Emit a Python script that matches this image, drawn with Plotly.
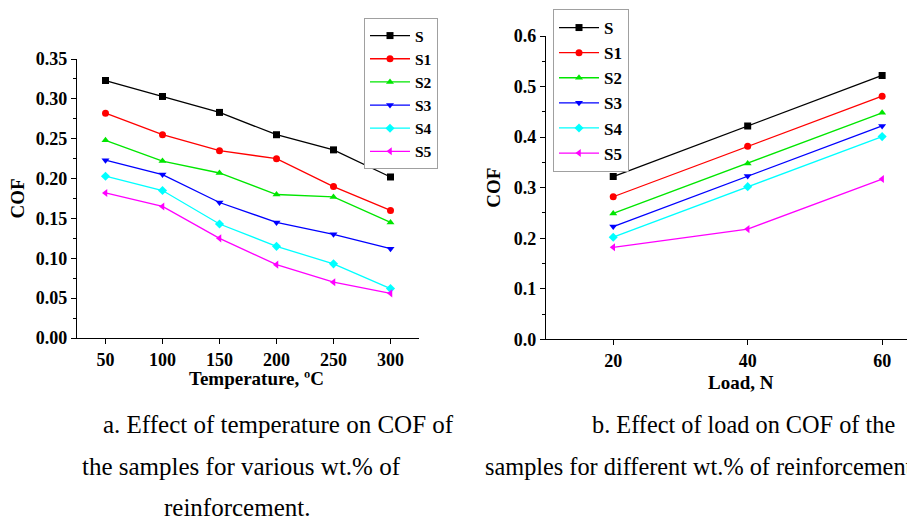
import plotly.graph_objects as go

# ---------------- data ----------------
series_names = ["S", "S1", "S2", "S3", "S4", "S5"]
temperature = [50, 100, 150, 200, 250, 300]
cof_temp_S  = [0.323, 0.303, 0.283, 0.255, 0.236, 0.202]
cof_temp_S1 = [0.282, 0.255, 0.235, 0.225, 0.190, 0.160]
cof_temp_S2 = [0.248, 0.222, 0.207, 0.180, 0.177, 0.145]
cof_temp_S3 = [0.223, 0.205, 0.170, 0.145, 0.130, 0.112]
cof_temp_S4 = [0.203, 0.185, 0.143, 0.115, 0.093, 0.062]
cof_temp_S5 = [0.182, 0.165, 0.125, 0.092, 0.070, 0.056]

load = [20, 40, 60]
cof_load_S  = [0.322, 0.422, 0.522]
cof_load_S1 = [0.282, 0.382, 0.481]
cof_load_S2 = [0.249, 0.348, 0.448]
cof_load_S3 = [0.223, 0.323, 0.422]
cof_load_S4 = [0.202, 0.302, 0.401]
cof_load_S5 = [0.182, 0.218, 0.317]

colors = ["#000000", "#ff0000", "#00e600", "#0000ff", "#00ffff", "#ff00ff"]
symbols = ["square", "circle", "triangle-up", "triangle-down", "diamond", "triangle-left"]

temp_series = [cof_temp_S, cof_temp_S1, cof_temp_S2, cof_temp_S3, cof_temp_S4, cof_temp_S5]
load_series = [cof_load_S, cof_load_S1, cof_load_S2, cof_load_S3, cof_load_S4, cof_load_S5]

W, H = 907, 521
SERIF = "Liberation Serif, Times New Roman, Times, serif"

fig = go.Figure()
for name, ys, c, s in zip(series_names, temp_series, colors, symbols):
    fig.add_trace(go.Scatter(
        x=temperature, y=ys, name=name, mode="lines+markers",
        line=dict(color=c, width=1.3), marker=dict(symbol=s, size=7, color=c),
        xaxis="x", yaxis="y", legend="legend"))
for name, ys, c, s in zip(series_names, load_series, colors, symbols):
    fig.add_trace(go.Scatter(
        x=load, y=ys, name=name, mode="lines+markers",
        line=dict(color=c, width=1.3), marker=dict(symbol=s, size=7, color=c),
        xaxis="x2", yaxis="y2", legend="legend2"))

tickfont = dict(family=SERIF, size=18, color="black", weight="bold")
titlefont = dict(family=SERIF, size=19, color="black", weight="bold")

def px_x(px):
    return px / W

def px_y(py):
    return 1 - py / H

axis_common = dict(showline=True, linecolor="black", linewidth=1.3, ticks="outside",
                   ticklen=5, tickwidth=1.2, tickcolor="black", showgrid=False,
                   zeroline=False, tickfont=tickfont, automargin=False)

fig.update_layout(
    width=W, height=H,
    margin=dict(l=0, r=0, t=0, b=0, autoexpand=False),
    paper_bgcolor="white", plot_bgcolor="white",
    xaxis=dict(domain=[px_x(77), px_x(419)], range=[25, 325], tickvals=temperature,
               anchor="y", **axis_common),
    yaxis=dict(domain=[px_y(338), px_y(59)], range=[0, 0.35], dtick=0.05,
               tickformat=".2f", anchor="x", **axis_common,
               minor=dict(dtick=0.025, ticks="outside", ticklen=3, tickcolor="black"),
               title=dict(text="COF", font=titlefont, standoff=6)),
    xaxis2=dict(domain=[px_x(546), 1.0], range=[10, 63.7], tickvals=load,
                anchor="y2", **axis_common),
    yaxis2=dict(domain=[px_y(339.3), px_y(36)], range=[0, 0.6], dtick=0.1,
                tickformat=".1f", anchor="x2", **axis_common,
                minor=dict(dtick=0.05, ticks="outside", ticklen=3, tickcolor="black"),
                title=dict(text="COF", font=titlefont, standoff=8)),
    legend=dict(x=px_x(364), y=px_y(18), xanchor="left", yanchor="top",
                bgcolor="white", bordercolor="#a0a0a0", borderwidth=1,
                font=dict(family=SERIF, size=15.5, color="black", weight="bold"),
                tracegroupgap=0, itemwidth=40),
    legend2=dict(x=px_x(553), y=px_y(9), xanchor="left", yanchor="top",
                 bgcolor="white", bordercolor="#a0a0a0", borderwidth=1,
                 font=dict(family=SERIF, size=17, color="black", weight="bold"),
                 tracegroupgap=0, itemwidth=40),
    showlegend=True,
)

# x-axis titles (placed as in the reference, slightly right of axis centre)
fig.add_annotation(text="Temperature, ºC", x=px_x(256), y=px_y(378), xref="paper", yref="paper",
                   xanchor="center", yanchor="middle", showarrow=False, font=titlefont)
fig.add_annotation(text="Load, N", x=px_x(741), y=px_y(382), xref="paper", yref="paper",
                   xanchor="center", yanchor="middle", showarrow=False, font=titlefont)

captions = [
    ("a. Effect of temperature on COF of", 101, 424, 25),
    ("the samples for various wt.% of", 80, 466, 25),
    ("reinforcement.", 162, 507, 25),
    ("b. Effect of load on COF of the", 590, 424, 24.3),
    ("samples for different wt.% of reinforcement", 483, 466, 24.3),
]
for text, x0, y0, fs in captions:
    fig.add_annotation(text=text, x=px_x(x0), y=px_y(y0), xref="paper", yref="paper",
                       xanchor="left", yanchor="middle", showarrow=False,
                       font=dict(family=SERIF, size=fs, color="black"))

fig.write_html("out.html", config={"displayModeBar": False},
               post_script="document.body.style.margin='0';document.body.style.overflow='hidden';")
